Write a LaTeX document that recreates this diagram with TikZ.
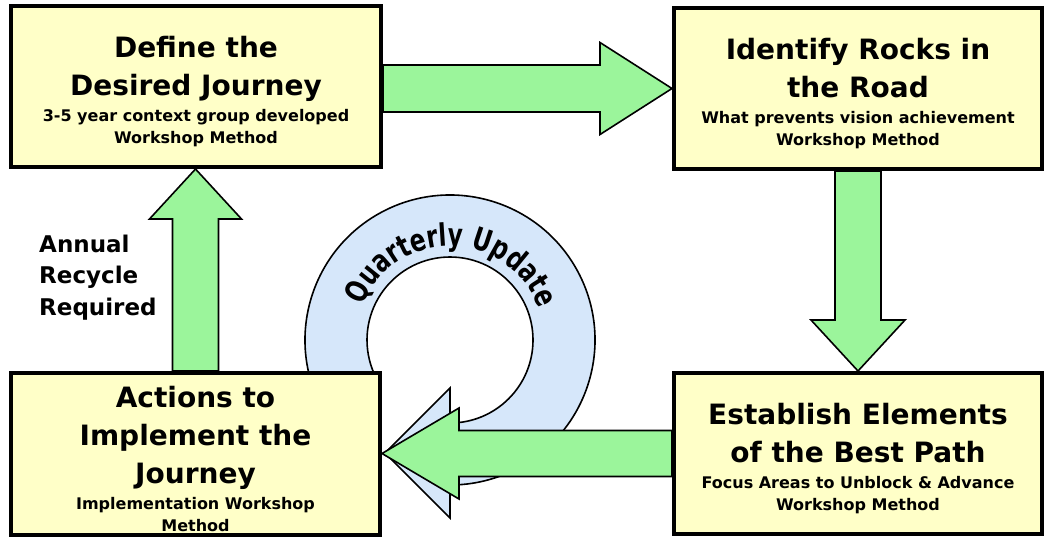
\documentclass[tikz,border=0pt]{standalone}
\usepackage{fontspec}
\setmainfont{DejaVu Sans}
\newfontfamily\ringfont[FakeStretch=0.75]{DejaVu Sans Bold}
\usepackage{tikz}
\usetikzlibrary{calc,decorations.text}

\definecolor{boxyellow}{RGB}{255,255,200}
\definecolor{arrowgreen}{RGB}{155,245,155}
\definecolor{ringblue}{RGB}{214,231,250}
\newcommand\headtxt{\fontsize{28}{38}\selectfont}
\newcommand\subtxt{\fontsize{16}{22}\selectfont}
\newcommand\stagetext[2]{{\headtxt\rule{0pt}{31pt}#1\par}\vspace{4pt}{\subtxt #2\par}}

\begin{document}
\begin{tikzpicture}[x=1pt, y=-1pt,
    stage/.style={rectangle, draw, line width=4pt, fill=boxyellow,
      minimum width=370pt, minimum height=161pt,
      text width=360pt, align=flush center, font=\bfseries, inner sep=0pt},
    garrow/.style={draw, line width=1.6pt, fill=arrowgreen},
    loop/.style={draw, line width=1.6pt, fill=ringblue}]
  \useasboundingbox (0,0) rectangle (1046,539);
  % quarterly loop, sits behind the boxes
  \coordinate (q) at (450,340);
  \draw[loop] (q) ++(152:145) arc[start angle=152, end angle=450, radius=145]
    -- ++(0,33) -- (385,453) -- (450,388) -- (450,423)
    arc[start angle=450, end angle=152, radius=83] -- cycle;
  \path[decorate, decoration={text along path, text align=center,
      text={|\ringfont\fontsize{31}{31}\selectfont|Quarterly Update}}]
    (q) ++(183:94) arc[start angle=183, end angle=359, radius=94];

  \node[stage] (define) at (196,86.5)
    {\stagetext{Define the\\ Desired Journey}
      {3-5 year context group developed\\ Workshop Method}};
  \node[stage, minimum width=368pt] (rocks) at (858,88.5)
    {\stagetext{Identify Rocks in\\ the Road}
      {What prevents vision achievement\\ Workshop Method}};
  \node[stage, minimum width=368pt] (path) at (858,453.5)
    {\stagetext{Establish Elements\\ of the Best Path}
      {Focus Areas to Unblock \& Advance\\ Workshop Method}};
  \node[stage, minimum width=369pt, minimum height=162pt] (actions) at (195.5,454)
    {\stagetext{Actions to\\ Implement the\\ Journey}
      {Implementation Workshop\\ Method}};

  \node[font=\bfseries\fontsize{23}{31.5}\selectfont, align=left,
    anchor=north west, inner sep=0pt] (recycle) at (39,234.5)
    {Annual\\ Recycle\\ Required};

  \draw[garrow] let \p1=(define.east), \p2=(rocks.west) in
    (\x1,\y2+23.5pt) -- (\x2-72pt,\y2+23.5pt) -- (\x2-72pt,\y2+46pt) -- (\x2,\y2)
    -- (\x2-72pt,\y2-46pt) -- (\x2-72pt,\y2-23.5pt) -- (\x1,\y2-23.5pt) -- cycle;
  \draw[garrow] let \p1=(rocks.south), \p2=(path.north) in
    (\x1-23pt,\y1) -- (\x1-23pt,\y2+51pt) -- (\x1-47pt,\y2+51pt) -- (\x1,\y2)
    -- (\x1+47pt,\y2+51pt) -- (\x1+23pt,\y2+51pt) -- (\x1+23pt,\y1) -- cycle;
  \draw[garrow] let \p1=(path.west), \p2=(actions.east) in
    (\x1,\y1+23pt) -- (\x2+77pt,\y1+23pt) -- (\x2+77pt,\y1+45.5pt) -- (\x2,\y1)
    -- (\x2+77pt,\y1-45.5pt) -- (\x2+77pt,\y1-23pt) -- (\x1,\y1-23pt) -- cycle;
  \draw[garrow] let \p1=(actions.north), \p2=(define.south) in
    (\x1-23pt,\y1) -- (\x1-23pt,\y2-50pt) -- (\x1-46pt,\y2-50pt) -- (\x1,\y2)
    -- (\x1+46pt,\y2-50pt) -- (\x1+23pt,\y2-50pt) -- (\x1+23pt,\y1) -- cycle;
\end{tikzpicture}
\end{document}
